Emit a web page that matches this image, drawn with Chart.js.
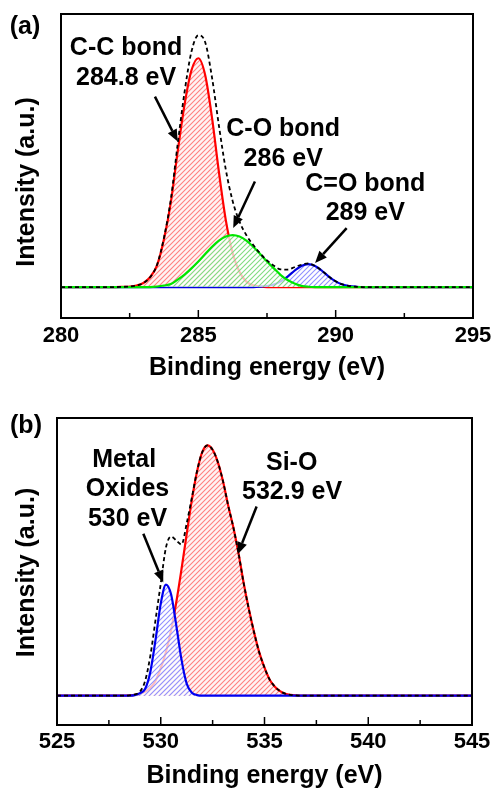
<!DOCTYPE html>
<html>
<head>
<meta charset="utf-8">
<script src="https://cdn.jsdelivr.net/npm/chart.js@4.4.0/dist/chart.umd.min.js"></script>
<style>
    body { margin: 0; background: #fff; }
    #quadro { position: relative; width: 493px; height: 792px; overflow: hidden; }
    canvas { position: absolute; left: 0; }
    #graficoA { top: 0; }
    #graficoB { top: 395px; }
</style>
</head>
<body>
<div id="quadro">
    <canvas id="graficoA" width="493" height="395"></canvas>
    <canvas id="graficoB" width="493" height="397"></canvas>
</div>
<script>
// Painel (a) - C 1s (energia em eV, intensidade em u.a.)
const energiaA = [280, 281, 282, 282.25, 282.5, 282.75, 283, 283.25, 283.5, 283.75, 284, 284.25, 284.5, 284.75,
    285, 285.25, 285.5, 285.75, 286, 286.25, 286.5, 286.75, 287, 287.25, 287.5, 287.75, 288, 288.25, 288.5,
    288.75, 289, 289.25, 289.5, 289.75, 290, 290.25, 290.5, 290.75, 291, 292, 293, 294, 295];
const ligacaoCC = [0, 0, 0, 0.2, 0.5, 1.5, 4, 10, 22, 48, 85, 136, 183, 217,
    229, 212, 169, 115, 67, 34, 15, 5.4, 1.7, 0.5, 0, 0, 0, 0, 0,
    0, 0, 0, 0, 0, 0, 0, 0, 0, 0, 0, 0, 0, 0];
const ligacaoCO = [0, 0, 0, 0, 0, 0, 0, 0, 0.5, 1.5, 3, 7.5, 12.5, 18.7,
    25.6, 33, 40.3, 46.4, 50.5, 52, 50.5, 46.4, 40.3, 33, 25.6, 18.7, 12, 7, 3.5,
    1.2, 0.3, 0, 0, 0, 0, 0, 0, 0, 0, 0, 0, 0, 0];
const ligacaoCdO = [0, 0, 0, 0, 0, 0, 0, 0, 0, 0, 0, 0, 0, 0,
    0, 0, 0, 0, 0, 0, 0, 0, 0, 0.3, 1, 2.6, 5.7, 10.5, 16.3,
    21.1, 23, 21.1, 16.3, 10.5, 5.7, 2.6, 1, 0.3, 0, 0, 0, 0, 0];
const envelopeA = [0, 0, 0, 0.2, 0.5, 1.5, 4, 10, 22.5, 49.5, 88, 143.5, 195.5, 235.7,
    252, 245, 209.3, 161.4, 117.5, 86, 65.5, 51.8, 42, 33.8, 26.6, 21.3, 17.7, 17.5, 19.8,
    22.3, 23.6, 21.1, 16.3, 10.5, 5.7, 2.6, 1, 0.3, 0, 0, 0, 0, 0];
const ticksA = [280, 285, 290, 295];

// Painel (b) - O 1s
const energiaB = [525, 526, 527, 528, 528.25, 528.5, 528.75, 529, 529.25, 529.5, 529.75, 530, 530.25, 530.5,
    530.75, 531, 531.25, 531.5, 531.75, 532, 532.25, 532.5, 532.75, 533, 533.25, 533.5, 533.75, 534,
    534.25, 534.5, 534.75, 535, 535.25, 535.5, 535.75, 536, 536.25, 536.5, 536.75, 537,
    538, 539, 540, 541, 542, 543, 544, 545];
const ligacaoSiO = [0, 0, 0, 0, 0, 0.3, 0.8, 2, 4, 8, 15, 27.4, 43.6, 65.6,
    93.6, 126.4, 161.5, 195.6, 224, 243.3, 250, 245.7, 233.4, 214.3, 190, 168, 142, 112,
    86, 63, 43, 28, 16, 9, 4.5, 2, 0.8, 0.2, 0, 0,
    0, 0, 0, 0, 0, 0, 0, 0];
const oxidosMetal = [0, 0, 0, 0, 0, 0, 0.5, 2.5, 7, 24, 56, 92, 111, 101,
    70, 36, 12, 3, 0.6, 0, 0, 0, 0, 0, 0, 0, 0, 0,
    0, 0, 0, 0, 0, 0, 0, 0, 0, 0, 0, 0,
    0, 0, 0, 0, 0, 0, 0, 0];
const envelopeB = [0, 0, 0, 0, 0, 0.3, 1.3, 4, 15, 40, 76, 112, 148, 159,
    155, 151, 172, 198, 224.5, 243.3, 250, 245.7, 233.4, 214.3, 190, 168, 142, 112,
    86, 63, 43, 28, 16, 9, 4.5, 2, 0.8, 0.2, 0, 0,
    0, 0, 0, 0, 0, 0, 0, 0];
const ticksB = [525, 530, 535, 540, 545];

const FONTE = 'Arial, "Liberation Sans", sans-serif';

function pontos(xs, ys) {
    return xs.map(function (x, i) { return { x: x, y: ys[i] }; });
}

// hachura diagonal para o preenchimento dos picos
function criarHachura(cor, fundo) {
    var t = 5;
    var c = document.createElement('canvas');
    c.width = t;
    c.height = t;
    var g = c.getContext('2d');
    g.fillStyle = fundo;
    g.fillRect(0, 0, t, t);
    g.strokeStyle = cor;
    g.lineWidth = 1.1;
    g.beginPath();
    g.moveTo(0, t); g.lineTo(t, 0);
    g.moveTo(-1, 1); g.lineTo(1, -1);
    g.moveTo(t - 1, t + 1); g.lineTo(t + 1, t - 1);
    g.stroke();
    return g.createPattern(c, 'repeat');
}

function desenharSeta(ctx, x1, y1, x2, y2) {
    var ang = Math.atan2(y2 - y1, x2 - x1);
    var tam = 12, larg = 5;
    var bx = x2 - tam * Math.cos(ang), by = y2 - tam * Math.sin(ang);
    ctx.beginPath();
    ctx.moveTo(x1, y1);
    ctx.lineTo(bx, by);
    ctx.stroke();
    ctx.beginPath();
    ctx.moveTo(x2, y2);
    ctx.lineTo(bx + larg * Math.sin(ang), by - larg * Math.cos(ang));
    ctx.lineTo(bx - larg * Math.sin(ang), by + larg * Math.cos(ang));
    ctx.closePath();
    ctx.fill();
}

// moldura, marcas internas do eixo, textos e setas
const painelPlugin = {
    id: 'painel',
    afterDraw: function (chart, args, opts) {
        var ctx = chart.ctx;
        var area = chart.chartArea;
        var sx = chart.scales.x, sy = chart.scales.y;
        ctx.save();
        ctx.strokeStyle = '#000';
        ctx.fillStyle = '#000';
        ctx.lineWidth = 2;
        ctx.strokeRect(area.left, area.top, area.right - area.left, area.bottom - area.top);

        ctx.lineWidth = 1.5;
        var marcas = opts.marcas;
        marcas.forEach(function (v, i) {
            var px = sx.getPixelForValue(v);
            ctx.beginPath();
            ctx.moveTo(px, area.bottom);
            ctx.lineTo(px, area.bottom - 8);
            ctx.stroke();
            if (i < marcas.length - 1) {
                var pm = sx.getPixelForValue((v + marcas[i + 1]) / 2);
                ctx.beginPath();
                ctx.moveTo(pm, area.bottom);
                ctx.lineTo(pm, area.bottom - 5);
                ctx.stroke();
            }
        });

        ctx.font = 'bold 25px ' + FONTE;
        ctx.textAlign = 'center';
        ctx.textBaseline = 'alphabetic';
        opts.notas.forEach(function (n) {
            ctx.fillText(n.texto, sx.getPixelForValue(n.x), sy.getPixelForValue(n.y));
        });
        ctx.fillText(opts.letra, opts.letraX, opts.letraY);

        ctx.lineWidth = 2.5;
        opts.setas.forEach(function (s) {
            desenharSeta(ctx, sx.getPixelForValue(s[0]), sy.getPixelForValue(s[1]),
                sx.getPixelForValue(s[2]), sy.getPixelForValue(s[3]));
        });

        ctx.font = 'bold 25px ' + FONTE;
        ctx.textBaseline = 'middle';
        ctx.translate(opts.tituloYX, opts.tituloYY);
        ctx.rotate(-Math.PI / 2);
        ctx.fillText('Intensity (a.u.)', 0, 0);
        ctx.restore();
    }
};

function eixoX(ticks, alturaEixo, padTicks, padTitulo) {
    return {
        type: 'linear',
        min: ticks[0],
        max: ticks[ticks.length - 1],
        ticks: { stepSize: ticks[1] - ticks[0], padding: padTicks, color: '#000', font: { family: FONTE, size: 22, weight: 'bold' } },
        grid: { display: false, drawTicks: false },
        border: { display: false },
        title: { display: true, text: 'Binding energy (eV)', color: '#000', font: { family: FONTE, size: 25, weight: 'bold' }, padding: { top: 0, bottom: padTitulo } },
        afterFit: function (s) {
            s.height = alturaEixo;
            s.paddingLeft = 0;
            s.paddingRight = 0;
        }
    };
}

function opcoesBase(padding, eixo, yMin, yMax, painel) {
    return {
        responsive: false,
        animation: false,
        events: [],
        layout: { padding: padding },
        elements: { point: { radius: 0 }, line: { cubicInterpolationMode: 'monotone' } },
        plugins: { legend: { display: false }, tooltip: { enabled: false }, painel: painel },
        scales: { x: eixo, y: { display: false, min: yMin, max: yMax } }
    };
}

new Chart(document.getElementById('graficoA'), {
    type: 'line',
    data: {
        datasets: [
            { data: pontos(energiaA, envelopeA), borderColor: '#000', borderWidth: 1.8, borderDash: [4, 3], fill: false },
            { data: pontos(energiaA, ligacaoCO), borderColor: '#00e600', borderWidth: 2.2, fill: 'origin', backgroundColor: criarHachura('#80dc80', 'rgba(255,255,255,0.75)') },
            { data: pontos(energiaA, ligacaoCdO), borderColor: '#0000e0', borderWidth: 2.2, fill: 'origin', backgroundColor: criarHachura('#9090ff', 'rgba(255,255,255,0.75)') },
            { data: pontos(energiaA, ligacaoCC), borderColor: '#ff0000', borderWidth: 2.2, fill: 'origin', backgroundColor: criarHachura('#ff8080', '#fff4f4') }
        ]
    },
    options: opcoesBase({ top: 14, left: 61, right: 20, bottom: 0 }, eixoX(ticksA, 77, 5, 12), -31, 273.3, {
        marcas: ticksA,
        letra: '(a)', letraX: 25, letraY: 34,
        tituloYX: 27, tituloYY: 182,
        notas: [
            { texto: 'C-C bond', x: 282.37, y: 232.3 },
            { texto: '284.8 eV', x: 282.37, y: 202.3 },
            { texto: 'C-O bond', x: 288.09, y: 151.3 },
            { texto: '286 eV', x: 288.09, y: 121.6 },
            { texto: 'C=O bond', x: 291.08, y: 96.6 },
            { texto: '289 eV', x: 291.08, y: 66.6 }
        ],
        setas: [
            [283.42, 190.6, 284.25, 145.6],
            [287.06, 105.6, 286.27, 59],
            [290.40, 59, 289.25, 24]
        ]
    }),
    plugins: [painelPlugin]
});

new Chart(document.getElementById('graficoB'), {
    type: 'line',
    data: {
        datasets: [
            { data: pontos(energiaB, envelopeB), borderColor: '#000', borderWidth: 1.8, borderDash: [4, 3], fill: false },
            { data: pontos(energiaB, oxidosMetal), borderColor: '#0000f0', borderWidth: 2.2, fill: 'origin', backgroundColor: criarHachura('#9090ff', 'rgba(255,255,255,0.75)') },
            { data: pontos(energiaB, ligacaoSiO), borderColor: '#ff0000', borderWidth: 2.2, fill: 'origin', backgroundColor: criarHachura('#ff8080', '#fff4f4') }
        ]
    },
    options: opcoesBase({ top: 23, left: 57, right: 21, bottom: 0 }, eixoX(ticksB, 67, 4, 1), -29.3, 277.4, {
        marcas: ticksB,
        letra: '(b)', letraX: 26, letraY: 38,
        tituloYX: 27, tituloYY: 177.5,
        notas: [
            { texto: 'Metal', x: 528.24, y: 228.4 },
            { texto: 'Oxides', x: 528.40, y: 199 },
            { texto: '530 eV', x: 528.40, y: 169.7 },
            { texto: 'Si-O', x: 536.31, y: 225.7 },
            { texto: '532.9 eV', x: 536.33, y: 196.7 }
        ],
        setas: [
            [529.16, 161.7, 530.12, 113],
            [534.62, 189, 533.71, 141.4]
        ]
    }),
    plugins: [painelPlugin]
});
</script>
</body>
</html>
